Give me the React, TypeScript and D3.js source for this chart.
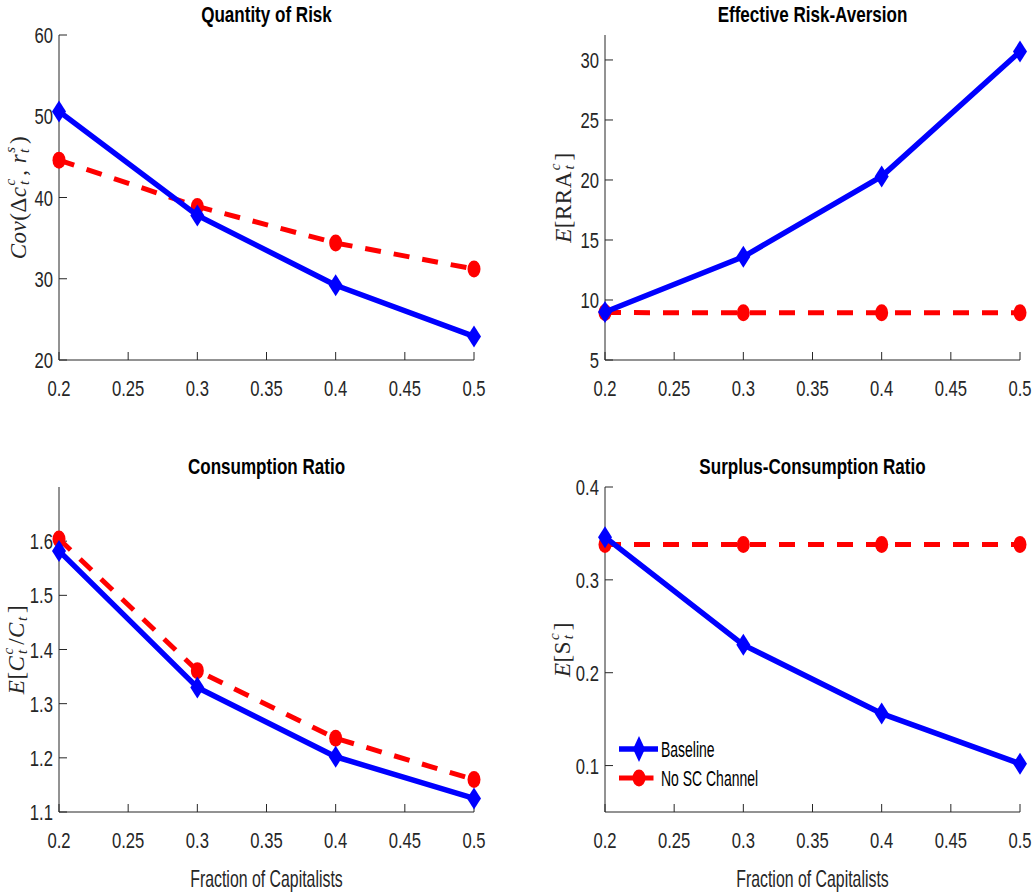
import React from "react";
import * as d3 from "d3";

const xValues = [0.2, 0.3, 0.4, 0.5];
const xTicks = [0.2, 0.25, 0.3, 0.35, 0.4, 0.45, 0.5];

const riskBaseline = [50.6, 37.8, 29.2, 22.9];
const riskNoSC = [44.6, 38.9, 34.4, 31.2];
const riskTicks = [20, 30, 40, 50, 60];

const rraBaseline = [9.0, 13.6, 20.3, 30.7];
const rraNoSC = [8.95, 8.94, 8.94, 8.94];
const rraTicks = [5, 10, 15, 20, 25, 30];

const crBaseline = [1.582, 1.33, 1.202, 1.125];
const crNoSC = [1.604, 1.361, 1.236, 1.16];
const crTicks = [1.1, 1.2, 1.3, 1.4, 1.5, 1.6];

const scBaseline = [0.346, 0.23, 0.156, 0.102];
const scNoSC = [0.338, 0.338, 0.338, 0.338];
const scTicks = [0.1, 0.2, 0.3, 0.4];

const seriesNames = ["Baseline", "No SC Channel"];

const SANS = "'Liberation Sans', Arial, sans-serif";
const SERIF = "'Liberation Serif', 'DejaVu Serif', serif";
const AX = "#262626";
const BLUE = "#0000ff";
const RED = "#ff0000";

function NText({
  x,
  y,
  anchor = "start",
  size,
  sx = 0.74,
  bold,
  fill = AX,
  children,
}: {
  x: number;
  y: number;
  anchor?: "start" | "middle" | "end";
  size: number;
  sx?: number;
  bold?: boolean;
  fill?: string;
  children: React.ReactNode;
}) {
  return (
    <text
      transform={`translate(${x},${y}) scale(${sx},1)`}
      textAnchor={anchor}
      fontFamily={SANS}
      fontSize={size}
      fontWeight={bold ? "bold" : "normal"}
      fill={fill}
    >
      {children}
    </text>
  );
}

type Seg = { t: string; i?: boolean; sup?: string; sub?: string };

function YLabel({ x, y, segs }: { x: number; y: number; segs: Seg[] }) {
  const parts: React.ReactNode[] = [];
  segs.forEach((s, k) => {
    parts.push(
      <tspan key={k + "m"} fontStyle={s.i ? "italic" : "normal"}>
        {s.t}
      </tspan>
    );
    if (s.sup && s.sub) {
      parts.push(
        <tspan key={k + "p"} fontStyle="italic" fontSize={15} dy={-9} dx={1}>
          {s.sup}
        </tspan>
      );
      parts.push(
        <tspan key={k + "b"} fontStyle="italic" fontSize={15} dx={-6.5} dy={14}>
          {s.sub}
        </tspan>
      );
      parts.push(<tspan key={k + "r"} dy={-5} dx={2}>{"\u200a"}</tspan>);
    } else if (s.sub) {
      parts.push(
        <tspan key={k + "b"} fontStyle="italic" fontSize={15} dy={5} dx={1}>
          {s.sub}
        </tspan>
      );
      parts.push(<tspan key={k + "r"} dy={-5} dx={1}>{"\u200a"}</tspan>);
    }
  });
  return (
    <text
      transform={`translate(${x},${y}) rotate(-90)`}
      textAnchor="middle"
      fontFamily={SERIF}
      fontSize={23}
      fill={AX}
      dominantBaseline="middle"
      letterSpacing={0.5}
    >
      {parts}
    </text>
  );
}

function Diamond({ cx, cy, w = 7, h = 11 }: { cx: number; cy: number; w?: number; h?: number }) {
  return (
    <path d={`M${cx},${cy - h}L${cx + w},${cy}L${cx},${cy + h}L${cx - w},${cy}Z`} fill={BLUE} />
  );
}

function Circle({ cx, cy }: { cx: number; cy: number }) {
  return <ellipse cx={cx} cy={cy} rx={6.5} ry={8.5} fill={RED} />;
}

type PanelProps = {
  left: number;
  right: number;
  top: number;
  bottom: number;
  yDomain: [number, number];
  yTicks: number[];
  yFmt: (v: number) => string;
  base: number[];
  nosc: number[];
  title: string;
  ylabel: Seg[];
  ylabelX: number;
  xlabel?: boolean;
  legend?: boolean;
};

function Panel(p: PanelProps) {
  const x = d3.scaleLinear().domain([0.2, 0.5]).range([p.left, p.right]);
  const y = d3.scaleLinear().domain(p.yDomain).range([p.bottom, p.top]);
  const line = d3
    .line<number>()
    .x((_, i) => x(xValues[i]))
    .y((d) => y(d));
  const tk = 8;
  return (
    <g>
      <line x1={p.left} x2={p.left} y1={p.top} y2={p.bottom} stroke={AX} strokeWidth={1} />
      <line x1={p.left} x2={p.right} y1={p.bottom} y2={p.bottom} stroke={AX} strokeWidth={1} />
      {xTicks.map((t) => (
        <g key={"x" + t}>
          <line x1={x(t)} x2={x(t)} y1={p.bottom} y2={p.bottom - tk} stroke={AX} />
          <NText x={x(t)} y={p.bottom + 36} anchor="middle" size={22.5}>
            {String(t)}
          </NText>
        </g>
      ))}
      {p.yTicks.map((t) => (
        <g key={"y" + t}>
          <line x1={p.left} x2={p.left + tk} y1={y(t)} y2={y(t)} stroke={AX} />
          <NText x={p.left - 6} y={y(t) + 8} anchor="end" size={22.5}>
            {p.yFmt(t)}
          </NText>
        </g>
      ))}
      <NText x={(p.left + p.right) / 2} y={p.top - 13} anchor="middle" size={22} sx={0.775} bold fill="#000">
        {p.title}
      </NText>
      {p.xlabel && (
        <NText x={(p.left + p.right) / 2} y={p.bottom + 75} anchor="middle" size={23} sx={0.69}>
          Fraction of Capitalists
        </NText>
      )}
      <YLabel x={p.ylabelX} y={(p.top + p.bottom) / 2} segs={p.ylabel} />
      <path d={line(p.nosc) || ""} fill="none" stroke={RED} strokeWidth={5} strokeDasharray="16,13" />
      {p.nosc.map((v, i) => (
        <Circle key={"c" + i} cx={x(xValues[i])} cy={y(v)} />
      ))}
      <path d={line(p.base) || ""} fill="none" stroke={BLUE} strokeWidth={5.5} strokeLinejoin="round" />
      {p.base.map((v, i) => (
        <Diamond key={"d" + i} cx={x(xValues[i])} cy={y(v)} />
      ))}
      {p.legend && (
        <g>
          <line x1={619} x2={658} y1={749} y2={749} stroke={BLUE} strokeWidth={5.5} />
          <Diamond cx={639} cy={749} w={6} h={13} />
          <NText x={661} y={757} size={21.5} sx={0.65} fill="#000">
            {seriesNames[0]}
          </NText>
          <line x1={619} x2={658} y1={778} y2={778} stroke={RED} strokeWidth={5} strokeDasharray="14,6.5" />
          <Circle cx={639} cy={778} />
          <NText x={661} y={786} size={21.5} sx={0.65} fill="#000">
            {seriesNames[1]}
          </NText>
        </g>
      )}
    </g>
  );
}

export default function App() {
  const f0 = (v: number) => String(v);
  const f1 = (v: number) => v.toFixed(1);
  return (
    <svg
      width={1035}
      height={895}
      style={{ position: "absolute", left: 0, top: 0, background: "#fff" }}
    >
      <rect width={1035} height={895} fill="#fff" />
      <Panel
        left={59}
        right={474}
        top={35}
        bottom={360}
        yDomain={[20, 60]}
        yTicks={riskTicks}
        yFmt={f0}
        base={riskBaseline}
        nosc={riskNoSC}
        title="Quantity of Risk"
        ylabelX={21}
        ylabel={[
          { t: "Cov", i: true },
          { t: "(Δ" },
          { t: "c", i: true, sup: "c", sub: "t" },
          { t: ", " },
          { t: "r", i: true, sup: "s", sub: "t" },
          { t: ")" },
        ]}
      />
      <Panel
        left={605}
        right={1020}
        top={35}
        bottom={360}
        yDomain={[5, 32.08]}
        yTicks={rraTicks}
        yFmt={f0}
        base={rraBaseline}
        nosc={rraNoSC}
        title="Effective Risk-Aversion"
        ylabelX={566}
        ylabel={[
          { t: "E", i: true },
          { t: "[" },
          { t: "RRA", sup: "c", sub: "t" },
          { t: "]" },
        ]}
      />
      <Panel
        left={59}
        right={474}
        top={487}
        bottom={812}
        yDomain={[1.1, 1.7]}
        yTicks={crTicks}
        yFmt={f1}
        base={crBaseline}
        nosc={crNoSC}
        title="Consumption Ratio"
        ylabelX={19}
        xlabel
        ylabel={[
          { t: "E", i: true },
          { t: "[" },
          { t: "C", i: true, sup: "c", sub: "t" },
          { t: "/" },
          { t: "C", i: true, sub: "t" },
          { t: "]" },
        ]}
      />
      <Panel
        left={605}
        right={1020}
        top={487}
        bottom={812}
        yDomain={[0.05, 0.4]}
        yTicks={scTicks}
        yFmt={f1}
        base={scBaseline}
        nosc={scNoSC}
        title="Surplus-Consumption Ratio"
        ylabelX={565}
        xlabel
        legend
        ylabel={[
          { t: "E", i: true },
          { t: "[" },
          { t: "S", sup: "c", sub: "t" },
          { t: "]" },
        ]}
      />
    </svg>
  );
}
